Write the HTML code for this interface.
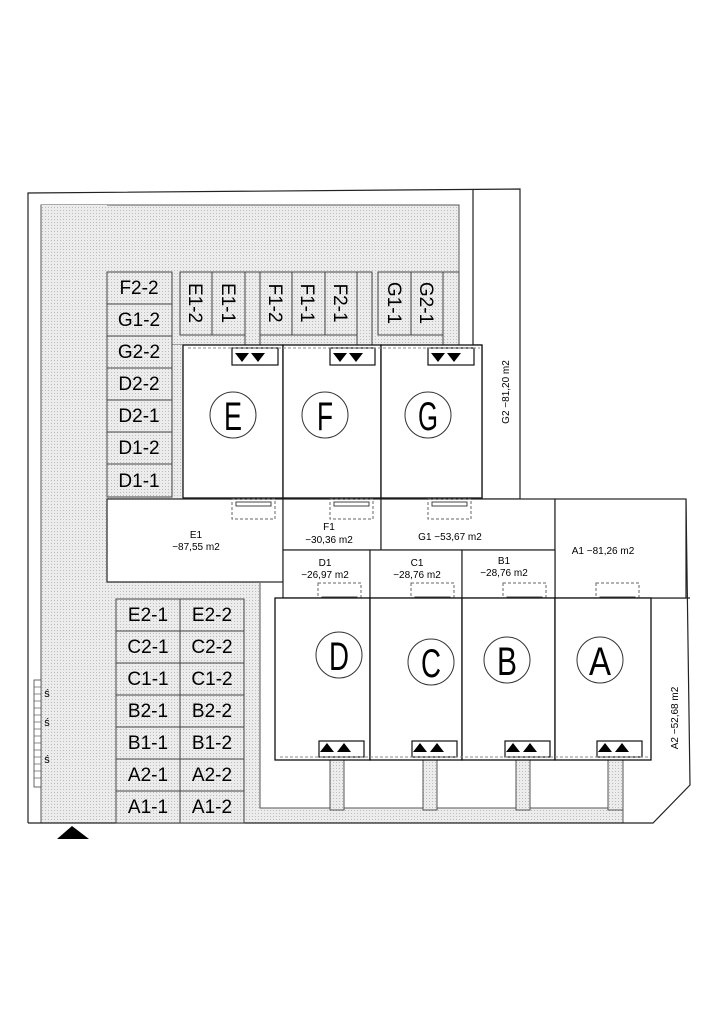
<!DOCTYPE html>
<html><head><meta charset="utf-8"><style>
html,body{margin:0;padding:0;background:#fff;}
svg{display:block;}
text{font-family:"Liberation Sans",sans-serif;fill:#000;}
.big{font-size:19px;}
.sm{font-size:10px;font-family:"Liberation Sans Narrow","Liberation Sans",sans-serif;}
</style></head><body>
<svg width="723" height="1023" viewBox="0 0 723 1023" xmlns="http://www.w3.org/2000/svg">
<defs>
<pattern id="dots" width="3" height="3" patternUnits="userSpaceOnUse">
<rect width="3" height="3" fill="#ececec"/><rect width="1" height="1" fill="#bdbdbd"/>
</pattern>
</defs>
<g stroke="#555" stroke-width="1">
<rect x="41" y="205" width="418" height="140" fill="url(#dots)"/>
<rect x="41" y="205" width="66" height="618" fill="url(#dots)" stroke="none"/>
<line x1="41" y1="205" x2="41" y2="823"/>
<rect x="105" y="345" width="78" height="154" fill="url(#dots)" stroke="none"/>
<rect x="107" y="582" width="153" height="241" fill="url(#dots)" stroke="none"/>
<rect x="260" y="808" width="363" height="15" fill="url(#dots)" stroke="none"/>
<rect x="330" y="760" width="14" height="50" fill="url(#dots)"/>
<rect x="423" y="760" width="14" height="50" fill="url(#dots)"/>
<rect x="516" y="760" width="14" height="50" fill="url(#dots)"/>
<rect x="608" y="760" width="15" height="50" fill="url(#dots)"/>
<polyline points="260,583 260,808 330,808" fill="none"/>
<line x1="344" y1="808" x2="423" y2="808"/><line x1="437" y1="808" x2="516" y2="808"/><line x1="530" y1="808" x2="608" y2="808"/>
<line x1="623" y1="760" x2="623" y2="823"/>
</g>
<g stroke="#222" stroke-width="1.2" fill="none">
<polyline points="28,823 28,193 520,189 520,500 686,500 690,785 653,823 28,823"/>
<line x1="473" y1="190" x2="473" y2="345"/>
<line x1="473" y1="345" x2="482" y2="345"/>
<line x1="482" y1="345" x2="482" y2="499"/>
<line x1="482" y1="499" x2="520" y2="499"/>
<line x1="651" y1="598" x2="690" y2="598"/>
</g>
<g stroke="#444" stroke-width="1" fill="url(#dots)">
<rect x="107" y="272" width="65" height="32"/><rect x="107" y="304" width="65" height="32"/>
<rect x="107" y="336" width="65" height="32"/><rect x="107" y="368" width="65" height="32"/>
<rect x="107" y="400" width="65" height="32"/><rect x="107" y="432" width="65" height="32"/>
<rect x="107" y="464" width="65" height="33"/>
<rect x="180" y="272" width="32" height="63"/><rect x="212" y="272" width="33" height="63"/>
<rect x="245" y="272" width="15" height="74"/>
<rect x="260" y="272" width="32" height="63"/><rect x="292" y="272" width="33" height="63"/>
<rect x="325" y="272" width="32" height="63"/>
<rect x="357" y="272" width="15" height="74"/>
<rect x="378" y="272" width="33" height="63"/><rect x="411" y="272" width="32" height="63"/>
<rect x="443" y="272" width="16" height="74"/>
<rect x="116" y="599" width="64" height="32"/><rect x="180" y="599" width="64" height="32"/>
<rect x="116" y="631" width="64" height="32"/><rect x="180" y="631" width="64" height="32"/>
<rect x="116" y="663" width="64" height="32"/><rect x="180" y="663" width="64" height="32"/>
<rect x="116" y="695" width="64" height="32"/><rect x="180" y="695" width="64" height="32"/>
<rect x="116" y="727" width="64" height="32"/><rect x="180" y="727" width="64" height="32"/>
<rect x="116" y="759" width="64" height="32"/><rect x="180" y="759" width="64" height="32"/>
<rect x="116" y="791" width="64" height="32"/><rect x="180" y="791" width="64" height="32"/>
</g>
<g class="big" text-anchor="middle">
<text x="139" y="294">F2-2</text><text x="139" y="326">G1-2</text><text x="139" y="358">G2-2</text>
<text x="139" y="390">D2-2</text><text x="139" y="422">D2-1</text><text x="139" y="454">D1-2</text><text x="139" y="487">D1-1</text>
<text x="148" y="621">E2-1</text><text x="212" y="621">E2-2</text>
<text x="148" y="653">C2-1</text><text x="212" y="653">C2-2</text>
<text x="148" y="685">C1-1</text><text x="212" y="685">C1-2</text>
<text x="148" y="717">B2-1</text><text x="212" y="717">B2-2</text>
<text x="148" y="749">B1-1</text><text x="212" y="749">B1-2</text>
<text x="148" y="781">A2-1</text><text x="212" y="781">A2-2</text>
<text x="148" y="813">A1-1</text><text x="212" y="813">A1-2</text>
<text transform="translate(189,303) rotate(90)">E1-2</text>
<text transform="translate(222,303) rotate(90)">E1-1</text>
<text transform="translate(269,303) rotate(90)">F1-2</text>
<text transform="translate(301,303) rotate(90)">F1-1</text>
<text transform="translate(334,303) rotate(90)">F2-1</text>
<text transform="translate(388,303) rotate(90)">G1-1</text>
<text transform="translate(420,303) rotate(90)">G2-1</text>
</g>
<g stroke="#111" stroke-width="1.3" fill="#fff">
<rect x="183" y="345" width="100" height="153"/>
<rect x="283" y="345" width="98" height="153"/>
<rect x="381" y="345" width="101" height="153"/>
</g>
<g stroke="#111" stroke-width="1.2" fill="#fff">
<rect x="232" y="348" width="46" height="17"/><rect x="330" y="348" width="45" height="17"/><rect x="428" y="348" width="46" height="17"/>
</g>
<g stroke="#888" stroke-dasharray="3,2" fill="none"><line x1="188" y1="348" x2="480" y2="348"/></g>
<g fill="#000">
<polygon points="235,353 249,353 242,362"/><polygon points="251,353 265,353 258,362"/>
<polygon points="333,353 347,353 340,362"/><polygon points="349,353 363,353 356,362"/>
<polygon points="431,353 445,353 438,362"/><polygon points="447,353 461,353 454,362"/>
</g>
<g stroke="#222" stroke-width="1.2" fill="#fff">
<rect x="107" y="499" width="176" height="83"/>
<rect x="283" y="499" width="98" height="51"/>
<rect x="381" y="499" width="174" height="51"/>
<rect x="555" y="499" width="131" height="99"/>
<rect x="283" y="550" width="87" height="48"/>
<rect x="370" y="550" width="92" height="48"/>
<rect x="462" y="550" width="93" height="48"/>
</g>
<g stroke="#666" stroke-dasharray="3,2" fill="none">
<rect x="232" y="499" width="43" height="20"/><rect x="330" y="499" width="43" height="20"/><rect x="428" y="499" width="43" height="20"/>
<rect x="318" y="583" width="43" height="16"/><rect x="411" y="583" width="43" height="16"/><rect x="503" y="583" width="43" height="16"/><rect x="596" y="583" width="43" height="16"/>
</g>
<g stroke="#444" fill="none">
<rect x="236" y="502" width="35" height="4"/><rect x="334" y="502" width="35" height="4"/><rect x="432" y="502" width="35" height="4"/>
<rect x="322" y="597" width="35" height="4"/><rect x="415" y="597" width="35" height="4"/><rect x="507" y="597" width="35" height="4"/><rect x="600" y="597" width="35" height="4"/>
</g>
<g class="sm" text-anchor="middle">
<text x="196" y="538">E1</text><text x="196" y="550">−87,55  m2</text>
<text x="329" y="530">F1</text><text x="329" y="543">−30,36  m2</text>
<text x="450" y="540">G1  −53,67  m2</text>
<text x="603" y="554">A1  −81,26  m2</text>
<text x="325" y="566">D1</text><text x="325" y="578">−26,97  m2</text>
<text x="417" y="566">C1</text><text x="417" y="578">−28,76  m2</text>
<text x="504" y="564">B1</text><text x="504" y="576">−28,76  m2</text>
<text transform="translate(509,392) rotate(-90)">G2  −81,20  m2</text>
<text transform="translate(678,718) rotate(-90)">A2  −52,68  m2</text>
</g>
<g stroke="#111" stroke-width="1.3" fill="#fff">
<rect x="275" y="598" width="95" height="162"/>
<rect x="370" y="598" width="92" height="162"/>
<rect x="462" y="598" width="93" height="162"/>
<rect x="555" y="598" width="96" height="162"/>
</g>
<g stroke="#111" stroke-width="1.2" fill="#fff">
<rect x="319" y="741" width="45" height="16"/><rect x="412" y="741" width="45" height="16"/>
<rect x="505" y="741" width="45" height="16"/><rect x="597" y="741" width="45" height="16"/>
</g>
<g stroke="#888" stroke-dasharray="3,2" fill="none"><line x1="280" y1="757" x2="648" y2="757"/></g>
<g fill="#000">
<polygon points="320,752 334,752 327,743"/><polygon points="337,752 351,752 344,743"/>
<polygon points="413,752 427,752 420,743"/><polygon points="430,752 444,752 437,743"/>
<polygon points="506,752 520,752 513,743"/><polygon points="523,752 537,752 530,743"/>
<polygon points="598,752 612,752 605,743"/><polygon points="615,752 629,752 622,743"/>
</g>
<g stroke="#333" fill="none" stroke-width="1">
<circle cx="233" cy="415" r="23"/><circle cx="325" cy="415" r="23"/><circle cx="428" cy="415" r="23"/>
<circle cx="339" cy="655" r="23"/><circle cx="431" cy="662" r="23"/><circle cx="507" cy="660" r="23"/><circle cx="600" cy="660" r="23"/>
</g>
<g text-anchor="middle" style="font-size:40px;font-family:'DejaVu Sans Condensed','Liberation Sans Narrow',sans-serif;font-weight:200">
<text x="233" y="430" textLength="18" lengthAdjust="spacingAndGlyphs">E</text>
<text x="325" y="430" textLength="16" lengthAdjust="spacingAndGlyphs">F</text>
<text x="428" y="430" textLength="20" lengthAdjust="spacingAndGlyphs">G</text>
<text x="339" y="670" textLength="20" lengthAdjust="spacingAndGlyphs">D</text>
<text x="431" y="677" textLength="20" lengthAdjust="spacingAndGlyphs">C</text>
<text x="507" y="675" textLength="20" lengthAdjust="spacingAndGlyphs">B</text>
<text x="600" y="675" textLength="22" lengthAdjust="spacingAndGlyphs">A</text>
</g>
<g stroke="#444" fill="#fff" stroke-width="0.8">
<rect x="34" y="680" width="7" height="107"/>
</g>
<g stroke="#444" stroke-width="0.6">
<line x1="34" y1="687" x2="41" y2="687"/><line x1="34" y1="694" x2="41" y2="694"/><line x1="34" y1="701" x2="41" y2="701"/>
<line x1="34" y1="708" x2="41" y2="708"/><line x1="34" y1="715" x2="41" y2="715"/><line x1="34" y1="722" x2="41" y2="722"/>
<line x1="34" y1="729" x2="41" y2="729"/><line x1="34" y1="736" x2="41" y2="736"/><line x1="34" y1="743" x2="41" y2="743"/>
<line x1="34" y1="750" x2="41" y2="750"/><line x1="34" y1="757" x2="41" y2="757"/><line x1="34" y1="764" x2="41" y2="764"/>
<line x1="34" y1="771" x2="41" y2="771"/><line x1="34" y1="778" x2="41" y2="778"/>
</g>
<g style="font-size:11px" text-anchor="middle">
<text x="47" y="697">ś</text><text x="47" y="726">ś</text><text x="47" y="763">ś</text>
</g>
<polygon points="57,839 72,826 89,839" fill="#000"/>
</svg>
</body></html>
